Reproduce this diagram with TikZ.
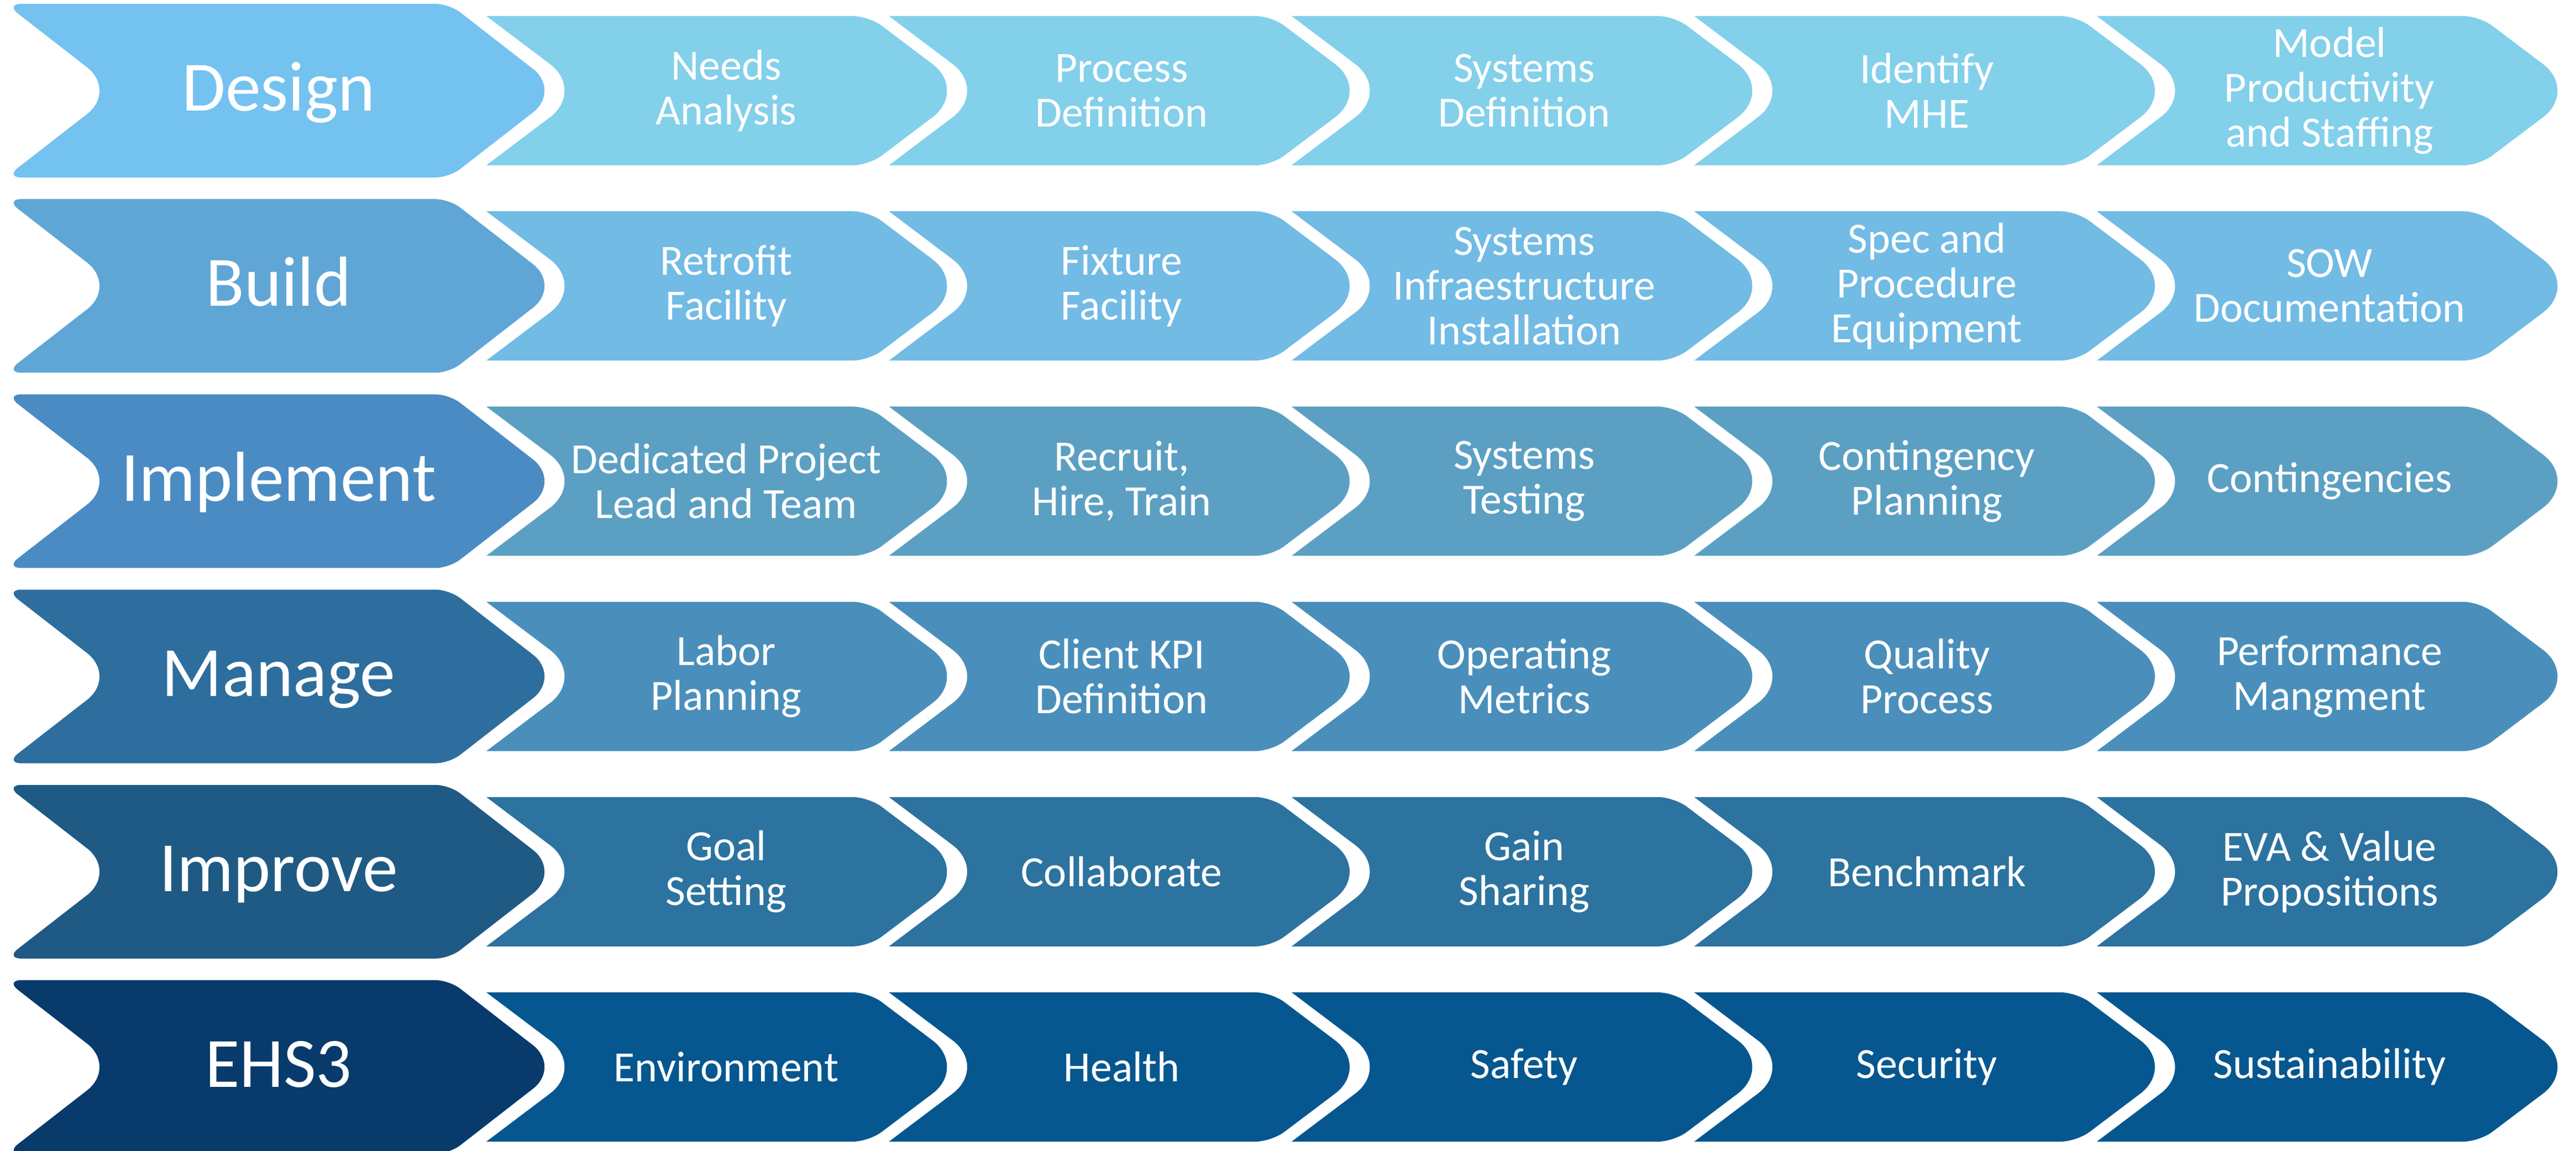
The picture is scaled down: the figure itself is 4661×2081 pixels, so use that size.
\documentclass[tikz,border=0pt]{standalone}
\usepackage{fontspec}
\setmainfont{Carlito}
\usetikzlibrary{calc}
\definecolor{pA}{HTML}{74C2F0}
\definecolor{cA}{HTML}{83D0EB}
\definecolor{pB}{HTML}{5FA6D6}
\definecolor{cB}{HTML}{71BBE5}
\definecolor{pC}{HTML}{4A8BC4}
\definecolor{cC}{HTML}{5BA0C3}
\definecolor{pD}{HTML}{2D6E9E}
\definecolor{cD}{HTML}{4A8FBB}
\definecolor{pE}{HTML}{1F5A84}
\definecolor{cE}{HTML}{2C73A0}
\definecolor{pF}{HTML}{083B6C}
\definecolor{cF}{HTML}{06578F}
\tikzset{
  clbl/.style={text=white, align=center, inner sep=0pt, font=\fontsize{78}{81}\selectfont},
  plbl/.style={text=white, align=center, inner sep=0pt, text height=72pt, text depth=0pt, font=\fontsize{128}{128}\selectfont},
}
% rounded corner at #2 between #1 and #3; tangent distance #4, control distance #5
\newcommand\rcorner[5]{-- ($(#2)!#4!(#1)$) .. controls ($(#2)!#5!(#1)$) and ($(#2)!#5!(#3)$) .. ($(#2)!#4!(#3)$)}
\newcommand\parentchev[4]{% row, color, name, text
  \pgfmathsetmacro\yt{7+353.2*#1}%
  \pgfmathsetmacro\yb{\yt+314}%
  \pgfmathsetmacro\yc{\yt+157}%
  \coordinate (PM) at (400,\yt);
  \coordinate (PTL) at (10,\yt);
  \coordinate (PTR) at (813,\yt);
  \coordinate (PT) at (1015,\yc);
  \coordinate (PBR) at (813,\yb);
  \coordinate (PBL) at (10,\yb);
  \coordinate (PN) at (212,\yc);
  \fill[#2] (PM) \rcorner{PTL}{PTR}{PT}{25pt}{11pt} \rcorner{PTR}{PT}{PBR}{64pt}{29pt}
     \rcorner{PT}{PBR}{PBL}{25pt}{11pt} \rcorner{PBR}{PBL}{PN}{28pt}{13pt}
     \rcorner{PBL}{PN}{PTL}{69pt}{31pt} \rcorner{PN}{PTL}{PTR}{28pt}{13pt} -- cycle;
  \node[plbl] (#3) at (504,\yc) {#4};
}
\newcommand\childchev[5]{% row, index, color, name, text
  \pgfmathsetmacro\yt{29+353.2*#1}%
  \pgfmathsetmacro\yb{\yt+270}%
  \pgfmathsetmacro\yc{\yt+135}%
  \pgfmathsetmacro\xl{880+728.5*#2}%
  \pgfmathsetmacro\xr{\xl+692}%
  \pgfmathsetmacro\xt{\xr+179}%
  \pgfmathsetmacro\xn{\xl+179}%
  \pgfmathsetmacro\xo{\xl+ifthenelse(#2==0,434,421)}%
  \coordinate (CTL) at (\xl,\yt);
  \coordinate (CTR) at (\xr,\yt);
  \coordinate (CT) at (\xt,\yc);
  \coordinate (CBR) at (\xr,\yb);
  \coordinate (CBL) at (\xl,\yb);
  \coordinate (CN) at (\xn,\yc);
  \fill[#3] (CTL) \rcorner{CTL}{CTR}{CT}{29pt}{13pt} \rcorner{CTR}{CT}{CBR}{80pt}{36pt}
     \rcorner{CT}{CBR}{CBL}{29pt}{13pt} -- (CBL) \rcorner{CBL}{CN}{CTL}{80pt}{36pt} -- cycle;
  \node[clbl] (#4) at (\xo,\yc) {#5};
}
\begin{document}
\begin{tikzpicture}[x=1pt,y=-1pt]
\useasboundingbox (0,0) rectangle (4661,2081);
\fill[white] (0,0) rectangle (4661,2081);
\clip (0,0) rectangle (4661,2081);
% Row 1
\parentchev{0}{pA}{design}{Design}
\childchev{0}{0}{cA}{d1}{Needs\\Analysis}
\childchev{0}{1}{cA}{d2}{Process\\Definition}
\childchev{0}{2}{cA}{d3}{Systems\\Definition}
\childchev{0}{3}{cA}{d4}{Identify\\MHE}
\childchev{0}{4}{cA}{d5}{Model\\Productivity\\and Staffing}
% Row 2
\parentchev{1}{pB}{build}{Build}
\childchev{1}{0}{cB}{b1}{Retrofit\\Facility}
\childchev{1}{1}{cB}{b2}{Fixture\\Facility}
\childchev{1}{2}{cB}{b3}{Systems\\Infraestructure\\Installation}
\childchev{1}{3}{cB}{b4}{Spec and\\Procedure\\Equipment}
\childchev{1}{4}{cB}{b5}{SOW\\Documentation}
% Row 3
\parentchev{2}{pC}{implement}{Implement}
\childchev{2}{0}{cC}{i1}{Dedicated Project\\Lead and Team}
\childchev{2}{1}{cC}{i2}{Recruit,\\Hire, Train}
\childchev{2}{2}{cC}{i3}{Systems\\Testing}
\childchev{2}{3}{cC}{i4}{Contingency\\Planning}
\childchev{2}{4}{cC}{i5}{Contingencies}
% Row 4
\parentchev{3}{pD}{manage}{Manage}
\childchev{3}{0}{cD}{m1}{Labor\\Planning}
\childchev{3}{1}{cD}{m2}{Client KPI\\Definition}
\childchev{3}{2}{cD}{m3}{Operating\\Metrics}
\childchev{3}{3}{cD}{m4}{Quality\\Process}
\childchev{3}{4}{cD}{m5}{Performance\\Mangment}
% Row 5
\parentchev{4}{pE}{improve}{Improve}
\childchev{4}{0}{cE}{v1}{Goal\\Setting}
\childchev{4}{1}{cE}{v2}{Collaborate}
\childchev{4}{2}{cE}{v3}{Gain\\Sharing}
\childchev{4}{3}{cE}{v4}{Benchmark}
\childchev{4}{4}{cE}{v5}{EVA \& Value\\Propositions}
% Row 6
\parentchev{5}{pF}{ehs}{EHS3}
\childchev{5}{0}{cF}{e1}{Environment}
\childchev{5}{1}{cF}{e2}{Health}
\childchev{5}{2}{cF}{e3}{Safety}
\childchev{5}{3}{cF}{e4}{Security}
\childchev{5}{4}{cF}{e5}{Sustainability}
\end{tikzpicture}
\end{document}
